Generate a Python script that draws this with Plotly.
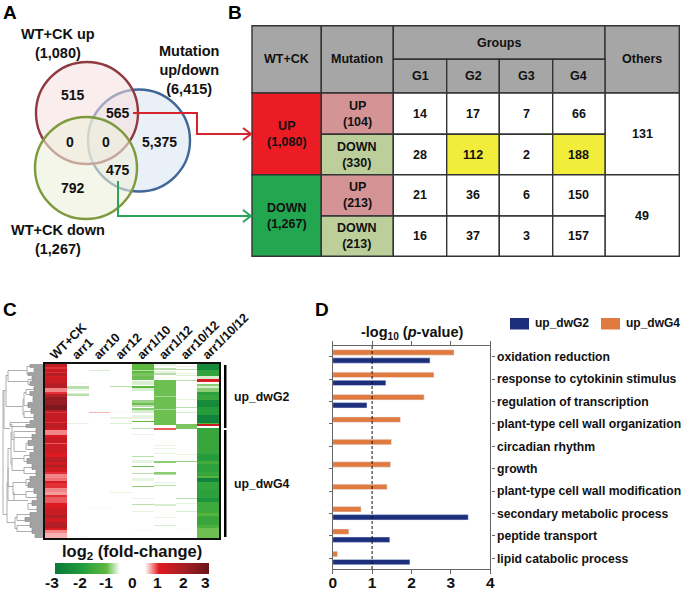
import plotly.graph_objects as go

W, H = 685, 590
FONT = "Liberation Sans"

# ---------- Panel A ----------
venn_names = ["Mutation", "WT+CK up", "WT+CK down"]
venn_cx = [139, 87, 86]
venn_cy = [140.5, 113, 168]
venn_r = [51, 51, 51]
venn_line = ["#3f6696", "#8f3a40", "#7f9a3e"]
venn_fill = ["rgba(222,232,245,0.65)", "rgba(245,222,222,0.55)", "rgba(236,240,218,0.60)"]
venn_labels = ["515", "565", "0", "0", "5,375", "475", "792"]
venn_lx = [73, 118, 70, 106, 159, 118, 73]
venn_ly = [95, 113, 142, 142, 142, 170, 188]
set_labels = ["WT+CK up<br>(1,080)", "Mutation<br>up/down<br>(6,415)", "WT+CK down<br>(1,267)"]
set_lx = [58, 189, 58]
set_ly = [43, 70, 239]

# ---------- Panel B ----------
col_edges = [252, 321.3, 393.3, 446.7, 499.3, 552.7, 605, 679.3]
row_edges = [25.7, 59.3, 93, 134.3, 174.7, 216, 256.3]
group_names = ["G1", "G2", "G3", "G4"]
group_values = [[14, 17, 7, 66], [28, 112, 2, 188], [21, 36, 6, 150], [16, 37, 3, 157]]
mutation_labels = ["UP<br>(104)", "DOWN<br>(330)", "UP<br>(213)", "DOWN<br>(213)"]
mutation_colors = ["#d49394", "#bccf9a", "#d49394", "#bccf9a"]
wt_labels = ["UP<br>(1,080)", "DOWN<br>(1,267)"]
wt_colors = ["#ec1c24", "#22a650"]
others_values = [131, 49]

# ---------- Panel C (runs: first row, end row, log2 fold change) ----------
N_ROWS = 174
heat_columns = ["WT+CK", "arr1", "arr10", "arr12", "arr1/10", "arr1/12", "arr10/12", "arr1/10/12"]
wt_ck = [(0,3,1.6),(3,5,1.0),(5,8,1.5),(8,9,1.0),(9,12,1.8),(12,13,1.1),(13,18,1.4),(18,20,1.6),(20,24,1.8),
         (24,28,.8),(28,30,1.0),(30,33,1.8),(33,41,2.3),(41,46,2.7),(46,48,1.8),(48,49,1.0),(49,51,1.6),(51,58,1.5),
         (58,59,1.0),(59,64,1.7),(64,66,1.3),(66,71,.8),(71,74,1.2),(74,79,1.5),(79,80,.9),(80,86,1.4),(86,89,1.4),
         (89,93,1.1),(93,98,1.7),(98,101,1.3),(101,103,1.9),(103,108,1.3),(108,110,1.0),(110,114,.8),(114,117,.85),
         (117,119,1.2),(119,124,1.0),(124,128,.8),(128,131,.75),(131,133,1.0),(133,139,.9),(139,142,1.1),(142,145,1.2),
         (145,148,1.5),(148,151,1.4),(151,154,1.9),(154,158,1.3),(158,164,1.8),(164,166,1.1),(166,169,.8),(169,174,.7)]
arr1 = [(19,20,-.5),(22,25,-.7),(26,27,-.55),(29,30,-.6),(30,32,-.7),(59,60,-.55),(172,173,-.5)]
arr10 = [(6,7,-.6),(48,49,.7),(143,144,-.5)]
arr12 = [(22,23,-.7),(48,49,-.5),(53,55,-.55),(59,60,-.6),(128,129,-.55)]
arr1_10 = [(0,6,-1.0),(6,7,-.7),(7,9,-1.0),(9,12,-.9),(12,16,-.95),(17,21,-.6),(22,24,-1.0),(24,27,-.6),(36,39,-.8),
           (39,41,-.95),(41,43,-.7),(44,46,-.85),(46,49,-.6),(51,53,-.55),(53,55,-.55),(57,58,-1.0),(64,65,-.7),(70,71,-.55),
           (92,93,-.7),(96,99,-.55),(102,103,-.95),(109,110,-.7),(114,117,-.55),(122,123,-.85),(134,135,-.55),(140,141,-.7),
           (147,148,-.55),(166,167,-.5)]
arr1_12 = [(0,2,-.55),(4,6,-.7),(7,9,-.55),(9,11,-.7),(13,15,-.5),(16,32,-.95),(32,33,-.75),(33,45,-.95),(45,46,-.75),
           (46,61,-.95),(64,66,.9),(81,82,-.55),(84,85,-.55),(89,90,-.55),(97,99,-.85),(108,110,-.85),(110,111,-.7),
           (118,119,-.55),(121,122,-.7),(140,142,-.6),(153,154,-.55),(161,162,-.6)]
arr10_12 = [(2,3,-.55),(5,6,-.7),(9,10,-.55),(11,12,-.6),(16,17,-.7),(35,36,-.55),(43,44,-.7),(48,49,-.6),(60,65,-.9),
            (90,91,-.55),(97,98,-.8),(134,135,-.7),(139,140,-.55),(147,148,-.6),(165,166,-.5)]
arr1_10_12 = [(0,6,-2.5),(6,12,-1.7),(12,15,-.6),(15,18,1.2),(20,22,-.85),(22,24,-.6),(24,28,-.85),(28,31,-1.8),(31,36,-1.6),
              (36,43,-2.5),(43,51,-1.9),(51,59,-2.7),(59,60,-1.2),(60,62,1.4),(64,90,-1.6),(90,97,-1.9),(97,100,-1.4),
              (100,108,-1.8),(108,112,-1.6),(112,114,-1.1),(114,118,-2.7),(118,126,-1.7),(126,134,-1.8),(134,138,-2.2),
              (138,149,-1.5),(149,152,-1.1),(152,161,-1.6),(161,164,-1.3),(164,174,-.95)]
heat_runs = [wt_ck, arr1, arr10, arr12, arr1_10, arr1_12, arr10_12, arr1_10_12]

# dendrogram: leaf fans (first row, end row, depth) and brackets (join x, row a, x a, row b, x b)
fans = [(0,4,30),(4,8,34),(8,12,28),(12,17,32),(17,22,30),(22,27,34),(27,32,30),(32,38,33),(38,44,28),(44,50,31),
        (50,56,34),(56,60,30),(60,64,26),(64,70,36),(70,76,32),(76,82,28),(82,88,34),(88,94,30),(94,100,27),(100,106,32),
        (106,112,36),(112,118,30),(118,124,28),(124,130,34),(130,136,37),(136,142,32),(142,148,37),(148,153,30),
        (153,158,25),(158,164,30),(164,170,32),(170,174,35)]
brackets = [(27,2,30,10,28),(28,15,32,20,30),(8,6,27,17,28),(26,25,34,30,30),(24,28,26,41,28),(24,47,31,53,34),
            (23,35,24,50,24),(6,11,8,42,23),(4,26,6,64,10),(10,58,30,62,26),
            (12,60,10,75,14),(14,67,36,73,32),(14,73,14,87,26),(26,79,28,85,34),(11,68,12,100,12),
            (24,91,30,97,27),(24,103,32,109,36),(12,94,24,106,24),(8,84,11,122,13),(26,115,30,121,28),(26,127,34,133,37),
            (13,118,26,130,26),(28,139,32,145,37),(8,103,8,136,14),(14,136,28,128,13),
            (17,150,30,156,25),(17,161,30,167,32),(15,153,17,164,17),(3,26,4,150,7),(7,118,8,158,15)]
cbar_ticks = ["-3", "-2", "-1", "0", "1", "2", "3"]
cbar_tick_x = [51.7, 80, 106, 132, 157, 183, 205.7]

# ---------- Panel D ----------
terms = ["oxidation reduction", "response to cytokinin stimulus", "regulation of transcription",
         "plant-type cell wall organization", "circadian rhythm", "growth",
         "plant-type cell wall modification", "secondary metabolic process", "peptide transport",
         "lipid catabolic process"]
up_dwG4 = [3.08, 2.57, 2.32, 1.72, 1.49, 1.47, 1.38, 0.72, 0.41, 0.12]
up_dwG2 = [2.47, 1.35, 0.87, None, None, None, None, 3.44, 1.45, 1.96]
NAVY, ORANGE = "#1c2f7d", "#e07a3f"

colorscale_stops = [(-3, "#0b7a3a"), (-2, "#1f9a3c"), (-1, "#5db83e"), (-.47, "#ffffff"), (.5, "#ffffff"),
                    (.72, "#f7a9a9"), (1.05, "#e01a22"), (2, "#a81f26"), (3, "#6a161b")]


def dom_x(a, b):
    return [a / W, b / W]


def dom_y(top, bottom):
    return [1 - bottom / H, 1 - top / H]


def bold(size, color="#111111"):
    return dict(family=FONT, size=size, color=color, weight="bold")


def expand(runs):
    out = [0.0] * N_ROWS
    for a, b, v in runs:
        for i in range(a, b):
            out[i] = v
    return out


fig = go.Figure()
shapes, annos = [], []


def text(x, y, s, size, color="#111111", anchor="center"):
    annos.append(dict(x=x, y=y, xref="x", yref="y", text=s, showarrow=False, xanchor=anchor, yanchor="middle",
                      font=bold(size, color), align="center"))


# Venn
for cx, cy, r, lc, fc in zip(venn_cx, venn_cy, venn_r, venn_line, venn_fill):
    shapes.append(dict(type="circle", xref="x", yref="y", x0=cx - r, x1=cx + r, y0=cy - r, y1=cy + r,
                       line=dict(color=lc, width=2.4), fillcolor=fc, layer="below"))
for x, y, s in zip(venn_lx, venn_ly, venn_labels):
    text(x, y, s, 14)
for x, y, s in zip(set_lx, set_ly, set_labels):
    text(x, y, s, 14.5)

# connectors
red_x = [133, 197, 197, 250, None, 243, 251, 243]
red_y = [113, 113, 134, 134, None, 128, 134, 140]
green_x = [118, 118, 250, None, 243, 251, 243]
green_y = [181, 216, 216, None, 210, 216, 222]
fig.add_trace(go.Scatter(x=red_x, y=red_y, mode="lines", line=dict(color="#d7232b", width=2), showlegend=False,
                         hoverinfo="skip"))
fig.add_trace(go.Scatter(x=green_x, y=green_y, mode="lines", line=dict(color="#2aa55a", width=2), showlegend=False,
                         hoverinfo="skip"))


# Table
def cell(x0, x1, y0, y1, fill, label=None, size=12.5):
    shapes.append(dict(type="rect", xref="x", yref="y", x0=x0, x1=x1, y0=y0, y1=y1, fillcolor=fill,
                       line=dict(color="#333333", width=1.4), layer="below"))
    if label is not None:
        text((x0 + x1) / 2, (y0 + y1) / 2, str(label), size)


ce, re_ = col_edges, row_edges
GREY = "#a6a6a6"
cell(ce[0], ce[1], re_[0], re_[2], GREY, "WT+CK")
cell(ce[1], ce[2], re_[0], re_[2], GREY, "Mutation")
cell(ce[2], ce[6], re_[0], re_[1], GREY, "Groups")
cell(ce[6], ce[7], re_[0], re_[2], GREY, "Others")
for j, g in enumerate(group_names):
    cell(ce[2 + j], ce[3 + j], re_[1], re_[2], GREY, g)
for k in range(2):
    cell(ce[0], ce[1], re_[2 + 2 * k], re_[4 + 2 * k], wt_colors[k], wt_labels[k])
    cell(ce[6], ce[7], re_[2 + 2 * k], re_[4 + 2 * k], "#ffffff", others_values[k])
for i in range(4):
    cell(ce[1], ce[2], re_[2 + i], re_[3 + i], mutation_colors[i], mutation_labels[i])
    for j in range(4):
        hi = group_values[i][j] in (112, 188)
        cell(ce[2 + j], ce[3 + j], re_[2 + i], re_[3 + i], "#f2ec3a" if hi else "#ffffff", group_values[i][j])

# Panel letters
for x, y, s in [(10, 12, "A"), (235, 12, "B"), (10, 309, "C"), (322, 309, "D")]:
    text(x, y, s, 19, "#000000")

# C extras on canvas
text(132, 552, "log<sub>2</sub> (fold-change)", 16.5)
text(232, 397, "up_dwG2", 12.3, anchor="left")
text(232, 484, "up_dwG4", 12.3, anchor="left")
shapes.append(dict(type="rect", xref="x", yref="y", x0=224, x1=226.5, y0=365, y1=428, fillcolor="#000000", line_width=0))
shapes.append(dict(type="rect", xref="x", yref="y", x0=224, x1=226.5, y0=430, y1=537, fillcolor="#000000", line_width=0))
for x, s in zip(cbar_tick_x, cbar_ticks):
    text(x, 582, s, 15.5)

# D extras on canvas
text(412, 333, "-log<sub>10</sub> (<i>p</i>-value)", 14.5)
for x0, c, name in [(510, NAVY, "up_dwG2"), (601, ORANGE, "up_dwG4")]:
    shapes.append(dict(type="rect", xref="x", yref="y", x0=x0, x1=x0 + 19, y0=318, y1=329.5, fillcolor=c, line_width=0))
    text(x0 + 23, 323, name, 12, anchor="left")

# Dendrogram
dx, dy = [], []
for a, b, depth in fans:
    dx += [depth, depth, None]
    dy += [a, b - 1, None]
    for r in range(a, b):
        dx += [depth, 44, None]
        dy += [r, r, None]
fig.add_trace(go.Scatter(x=dx, y=dy, xaxis="x2", yaxis="y2", mode="lines", line=dict(color="#8a8a8a", width=0.8),
                         showlegend=False, hoverinfo="skip"))
bx, by = [], []
for j, ra, xa, rb, xb in brackets:
    bx += [xa, j, j, xb, None]
    by += [ra, ra, rb, rb, None]
fig.add_trace(go.Scatter(x=bx, y=by, xaxis="x2", yaxis="y2", mode="lines", line=dict(color="#a5a5a5", width=0.9),
                         showlegend=False, hoverinfo="skip"))

# Heatmap
zrows = [expand(r) for r in heat_runs]
z = [[zrows[c][r] for c in range(len(heat_columns))] for r in range(N_ROWS)]
cs = [[(v + 3) / 6, c] for v, c in colorscale_stops]
fig.add_trace(go.Heatmap(z=z, x=heat_columns, y=list(range(N_ROWS)), xaxis="x3", yaxis="y3", zmin=-3, zmax=3,
                         colorscale=cs, hoverinfo="skip",
                         colorbar=dict(orientation="h", x=55 / W, xanchor="left", y=1 - 563 / H, yanchor="top",
                                       len=154, lenmode="pixels", thickness=11, thicknessmode="pixels",
                                       showticklabels=False, ticks="", outlinewidth=0, xpad=0, ypad=0)))

# Bars
idx = list(range(len(terms)))
fig.add_trace(go.Bar(x=up_dwG4, y=idx, orientation="h", name="up_dwG4", marker_color=ORANGE, width=0.24, offset=-0.31,
                     xaxis="x4", yaxis="y4", showlegend=False))
fig.add_trace(go.Bar(x=up_dwG2, y=idx, orientation="h", name="up_dwG2", marker_color=NAVY, width=0.24, offset=0.05,
                     xaxis="x4", yaxis="y4", showlegend=False))
fig.add_trace(go.Scatter(x=[1, 1], y=[-0.478, 9.478], mode="lines", line=dict(color="#111111", width=1, dash="3px,2px"),
                         xaxis="x4", yaxis="y4", showlegend=False, hoverinfo="skip"))

hidden = dict(visible=False, fixedrange=True)
GR = "#666666"
fig.update_layout(
    width=W, height=H, autosize=False, margin=dict(l=0, r=0, t=0, b=0, autoexpand=False),
    paper_bgcolor="white", plot_bgcolor="rgba(0,0,0,0)", barmode="overlay", showlegend=False,
    font=dict(family=FONT, color="#111111"),
    xaxis=dict(domain=[0, 1], range=[0, W], **hidden),
    yaxis=dict(domain=[0, 1], range=[H, 0], **hidden),
    xaxis2=dict(domain=dom_x(0, 45), range=[0, 45], anchor="y2", **hidden),
    yaxis2=dict(domain=dom_y(364, 538), range=[173.5, -0.5], anchor="x2", **hidden),
    xaxis3=dict(domain=dom_x(45, 219), anchor="y3", side="top", tickangle=-45, tickfont=bold(12.6), ticks="", ticklen=0,
                showline=True, linecolor="#111111", linewidth=2, mirror=True, showgrid=False, zeroline=False,
                tickmode="array", tickvals=heat_columns, ticktext=heat_columns,
                ticklabelstandoff=-5, ticklabelshift=-5),
    yaxis3=dict(domain=dom_y(364, 538), range=[173.5, -0.5], anchor="x3", showticklabels=False, ticks="",
                showline=True, linecolor="#111111", linewidth=2, mirror=True, showgrid=False, zeroline=False),
    xaxis4=dict(domain=dom_x(332.7, 490.3), range=[0, 4], anchor="y4", tickvals=[0, 1, 2, 3, 4], tickfont=bold(15.5),
                ticks="outside", ticklen=4, tickcolor=GR, tickwidth=1.4, showline=True, linecolor=GR, linewidth=1.4,
                mirror="ticks", showgrid=False, zeroline=False, ticklabelstandoff=-5),
    yaxis4=dict(domain=dom_y(346, 569), range=[9.478, -0.478], anchor="x4", side="right", tickmode="array",
                tickvals=idx, ticktext=terms, tickfont=bold(12.2), ticks="outside", ticklen=3, tickcolor=GR, tickwidth=1.2,
                showline=True, linecolor=GR, linewidth=1.4, mirror="ticks", showgrid=False, zeroline=False),
    shapes=shapes, annotations=annos,
)
fig.write_html("out.html", config=dict(displayModeBar=False),
               post_script="document.body.style.margin='0';document.documentElement.style.overflow='hidden';")
